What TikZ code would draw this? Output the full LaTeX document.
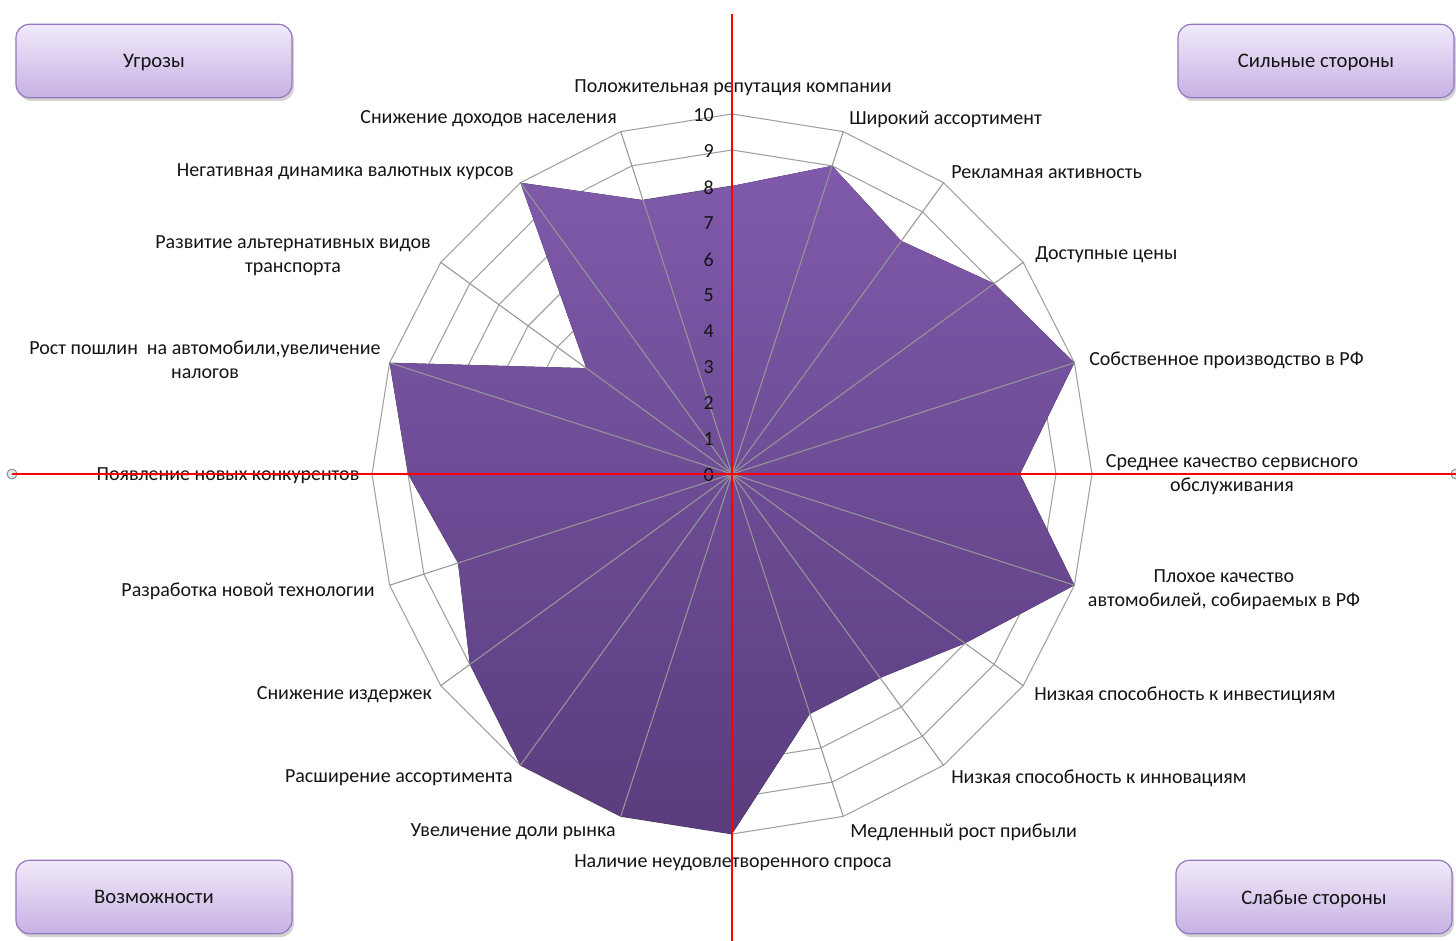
\documentclass[tikz,border=0pt]{standalone}
\usepackage{fontspec}
\setmainfont{Carlito}
\usetikzlibrary{shadows}

\definecolor{webgray}{RGB}{160,160,160}
\definecolor{spokegray}{RGB}{150,150,150}
\definecolor{areatop}{RGB}{127,90,170}
\definecolor{areabot}{RGB}{90,60,126}
\definecolor{boxtop}{RGB}{241,234,250}
\definecolor{boxbot}{RGB}{198,177,228}
\definecolor{boxline}{RGB}{150,120,190}
\definecolor{handle}{RGB}{214,234,240}
\definecolor{labeltext}{RGB}{20,20,20}

\tikzset{
  swotbox/.style={draw=boxline, line width=0.9pt, rounded corners=10pt,
    top color=boxtop, bottom color=boxbot, minimum width=207pt, minimum height=55pt,
    font=\fontsize{15.5}{17}\selectfont, text=labeltext, text depth=0pt,
    drop shadow={shadow xshift=1.5pt, shadow yshift=-2.5pt, opacity=0.35}},
  axislabel/.style={font=\fontsize{15}{18}\selectfont, text=labeltext, inner sep=0pt, align=center, yshift=-1.5pt},
  ticklabel/.style={font=\fontsize{15}{17}\selectfont, text=labeltext, inner sep=0pt, anchor=east, yshift=-1pt},
  redline/.style={red, line width=1.9pt}
}

\begin{document}
\begin{tikzpicture}[x=0.75pt, y=0.75pt]
  \useasboundingbox (-732,-467) rectangle (724,474);

  \foreach \r in {1,...,10}
    \draw[webgray, line width=0.8pt] (90:36*\r) \foreach \k in {1,...,19} { -- (90-18*\k:36*\r) } -- cycle;

  \fill[top color=areatop, bottom color=areabot] (90:8*36)
    \foreach \v [count=\k] in {9,8,9,10,8,10,8,7,7,10,10,10,9,8,9,10,5,10,8} { -- (90-18*\k:\v*36) } -- cycle;

  \foreach \k in {0,...,19}
    \draw[spokegray, line width=0.8pt] (0,0) -- (90-18*\k:360);

  \foreach \n in {0,...,10}
    \node[ticklabel] (tick\n) at (-18,36*\n) {\n};

  \node[axislabel] (lbl0) at (1,388) {Положительная репутация компании};
  \node[axislabel, anchor=west] (lbl1) at (117,357) {Широкий ассортимент};
  \node[axislabel, anchor=west] (lbl2) at (219,304) {Рекламная активность};
  \node[axislabel, anchor=west] (lbl3) at (303,221) {Доступные цены};
  \node[axislabel, anchor=west] (lbl4) at (357,116) {Собственное производство в РФ};
  \node[axislabel] (lbl5) at (500,1) {Среднее качество сервисного\\обслуживания};
  \node[axislabel] (lbl6) at (492,-114) {Плохое качество\\автомобилей, собираемых в РФ};
  \node[axislabel, anchor=west] (lbl7) at (302,-219) {Низкая способность к инвестициям};
  \node[axislabel, anchor=west] (lbl8) at (219,-302) {Низкая способность к инновациям};
  \node[axislabel, anchor=west] (lbl9) at (118,-356) {Медленный рост прибыли};
  \node[axislabel] (lbl10) at (1,-387) {Наличие неудовлетворенного спроса};
  \node[axislabel, anchor=east] (lbl11) at (-116,-356) {Увеличение доли рынка};
  \node[axislabel, anchor=east] (lbl12) at (-219,-302) {Расширение ассортимента};
  \node[axislabel, anchor=east] (lbl13) at (-300,-219) {Снижение издержек};
  \node[axislabel, anchor=east] (lbl14) at (-357,-115) {Разработка новой технологии};
  \node[axislabel] (lbl15) at (-504,0) {Появление новых конкурентов};
  \node[axislabel] (lbl16) at (-527,116) {Рост пошлин~ на автомобили,увеличение\\налогов};
  \node[axislabel] (lbl17) at (-439,220) {Развитие альтернативных видов\\транспорта};
  \node[axislabel, anchor=east] (lbl18) at (-218,304) {Негативная динамика валютных курсов};
  \node[axislabel, anchor=east] (lbl19) at (-115,357) {Снижение доходов населения};

  \node[swotbox] (threats) at (-578,413) {Угрозы};
  \node[swotbox] (strengths) at (584,413) {Сильные стороны};
  \node[swotbox] (chances) at (-578,-423) {Возможности};
  \node[swotbox] (weaknesses) at (582,-423) {Слабые стороны};

  \coordinate (westend) at (-720,0);
  \coordinate (eastend) at (724,0);
  \coordinate (northend) at (0,460);
  \coordinate (southend) at (0,-467);
  \draw[gray, fill=handle, line width=0.6pt] (westend) circle (5);
  \draw[gray, fill=handle, line width=0.6pt] (eastend) circle (5);
  \draw[redline] (westend) -- (eastend);
  \draw[redline] (northend) -- (southend);
\end{tikzpicture}
\end{document}
